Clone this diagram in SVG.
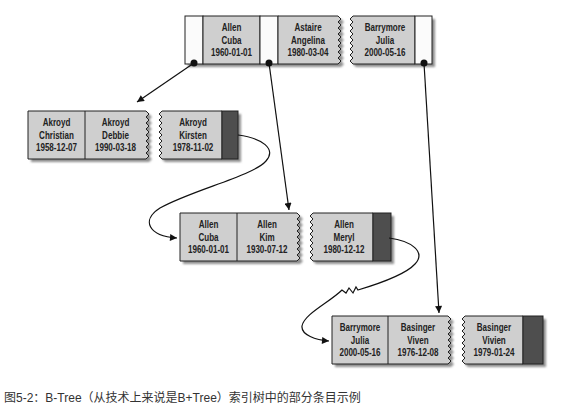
<svg xmlns="http://www.w3.org/2000/svg" width="583" height="414" viewBox="0 0 583 414">
<defs>
<style>
.gray{fill:#cfcfcf;stroke:#222;stroke-width:1}
.white{fill:#fbfbfb;stroke:#222;stroke-width:1}
.dark{fill:#4e4e4e;stroke:#222;stroke-width:1}
.shadow{fill:#8f8f8f;filter:url(#blur)}
.t{font-family:"Liberation Sans",sans-serif;font-size:11.5px;font-weight:bold;fill:#222;text-anchor:middle}
.edge{fill:none;stroke:#111;stroke-width:1.2}
.dot{fill:#111}
.cap{font-family:"Liberation Sans","Noto Sans CJK SC",sans-serif;font-size:12px;fill:#333}
</style>
<filter id="blur" x="-10%" y="-10%" width="120%" height="120%"><feGaussianBlur stdDeviation="1"/></filter>
<marker id="arr" viewBox="0 0 10 10" refX="10" refY="5" markerWidth="9" markerHeight="7" markerUnits="userSpaceOnUse" orient="auto"><path d="M0,0 L10,5 L0,10 Z" fill="#111"/></marker>
</defs>
<rect width="583" height="414" fill="#ffffff"/>

<g id="root-a">
<path class="shadow" d="M188,19 H341 l3,3 l-3,3 l3,3 l-3,3 l3,3 l-3,3 l3,3 l-3,3 l3,3 l-3,3 l3,3 l-3,3 l3,3 l-3,3 l3,3 l-3,3 H188 Z"/>
<rect class="white" x="185" y="16" width="18" height="48"/>
<rect class="gray" x="203" y="16" width="57" height="48"/>
<rect class="white" x="260" y="16" width="18" height="48"/>
<path class="gray" d="M278,16 H338 l3,3 l-3,3 l3,3 l-3,3 l3,3 l-3,3 l3,3 l-3,3 l3,3 l-3,3 l3,3 l-3,3 l3,3 l-3,3 l3,3 l-3,3 H278 Z"/>
<g transform="translate(231.5,0) scale(0.7,1)"><text class="t" x="0" y="31">Allen</text><text class="t" x="0" y="44">Cuba</text><text class="t" x="0" y="56">1960-01-01</text></g>
<g transform="translate(308,0) scale(0.7,1)"><text class="t" x="0" y="31">Astaire</text><text class="t" x="0" y="44">Angelina</text><text class="t" x="0" y="56">1980-03-04</text></g>
</g>
<g id="root-b">
<path class="shadow" d="M435,19 H356 l-3,3 l3,3 l-3,3 l3,3 l-3,3 l3,3 l-3,3 l3,3 l-3,3 l3,3 l-3,3 l3,3 l-3,3 l3,3 l-3,3 l3,3 H435 Z"/>
<path class="gray" d="M415,16 H353 l-3,3 l3,3 l-3,3 l3,3 l-3,3 l3,3 l-3,3 l3,3 l-3,3 l3,3 l-3,3 l3,3 l-3,3 l3,3 l-3,3 l3,3 H415 Z"/>
<rect class="white" x="415" y="16" width="17" height="48"/>
<g transform="translate(385,0) scale(0.7,1)"><text class="t" x="0" y="31">Barrymore</text><text class="t" x="0" y="44">Julia</text><text class="t" x="0" y="56">2000-05-16</text></g>
</g>

<g id="leaf1-a">
<path class="shadow" d="M31,114 H149 l3,3 l-3,3 l3,3 l-3,3 l3,3 l-3,3 l3,3 l-3,3 l3,3 l-3,3 l3,3 l-3,3 l3,3 l-3,3 l3,3 l-3,3 H31 Z"/>
<path class="gray" d="M28,111 H146 l3,3 l-3,3 l3,3 l-3,3 l3,3 l-3,3 l3,3 l-3,3 l3,3 l-3,3 l3,3 l-3,3 l3,3 l-3,3 l3,3 l-3,3 H28 Z"/>
<line x1="85" y1="111" x2="85" y2="159" stroke="#222"/>
<g transform="translate(56.5,0) scale(0.7,1)"><text class="t" x="0" y="126">Akroyd</text><text class="t" x="0" y="139">Christian</text><text class="t" x="0" y="151">1958-12-07</text></g>
<g transform="translate(115.5,0) scale(0.7,1)"><text class="t" x="0" y="126">Akroyd</text><text class="t" x="0" y="139">Debbie</text><text class="t" x="0" y="151">1990-03-18</text></g>
</g>
<g id="leaf1-b">
<path class="shadow" d="M241,114 H165 l-3,3 l3,3 l-3,3 l3,3 l-3,3 l3,3 l-3,3 l3,3 l-3,3 l3,3 l-3,3 l3,3 l-3,3 l3,3 l-3,3 l3,3 H241 Z"/>
<path class="gray" d="M222,111 H162 l-3,3 l3,3 l-3,3 l3,3 l-3,3 l3,3 l-3,3 l3,3 l-3,3 l3,3 l-3,3 l3,3 l-3,3 l3,3 l-3,3 l3,3 H222 Z"/>
<rect class="dark" x="222" y="111" width="16" height="48"/>
<g transform="translate(193,0) scale(0.7,1)"><text class="t" x="0" y="126">Akroyd</text><text class="t" x="0" y="139">Kirsten</text><text class="t" x="0" y="151">1978-11-02</text></g>
</g>

<g id="leaf2-a">
<path class="shadow" d="M183,216 H300 l3,3 l-3,3 l3,3 l-3,3 l3,3 l-3,3 l3,3 l-3,3 l3,3 l-3,3 l3,3 l-3,3 l3,3 l-3,3 l3,3 l-3,3 H183 Z"/>
<path class="gray" d="M180,213 H297 l3,3 l-3,3 l3,3 l-3,3 l3,3 l-3,3 l3,3 l-3,3 l3,3 l-3,3 l3,3 l-3,3 l3,3 l-3,3 l3,3 l-3,3 H180 Z"/>
<line x1="237" y1="213" x2="237" y2="261" stroke="#222"/>
<g transform="translate(208.5,0) scale(0.7,1)"><text class="t" x="0" y="228">Allen</text><text class="t" x="0" y="241">Cuba</text><text class="t" x="0" y="253">1960-01-01</text></g>
<g transform="translate(267,0) scale(0.7,1)"><text class="t" x="0" y="228">Allen</text><text class="t" x="0" y="241">Kim</text><text class="t" x="0" y="253">1930-07-12</text></g>
</g>
<g id="leaf2-b">
<path class="shadow" d="M394,216 H316 l-3,3 l3,3 l-3,3 l3,3 l-3,3 l3,3 l-3,3 l3,3 l-3,3 l3,3 l-3,3 l3,3 l-3,3 l3,3 l-3,3 l3,3 H394 Z"/>
<path class="gray" d="M373,213 H313 l-3,3 l3,3 l-3,3 l3,3 l-3,3 l3,3 l-3,3 l3,3 l-3,3 l3,3 l-3,3 l3,3 l-3,3 l3,3 l-3,3 l3,3 H373 Z"/>
<rect class="dark" x="373" y="213" width="18" height="48"/>
<g transform="translate(344,0) scale(0.7,1)"><text class="t" x="0" y="228">Allen</text><text class="t" x="0" y="241">Meryl</text><text class="t" x="0" y="253">1980-12-12</text></g>
</g>

<g id="leaf3-a">
<path class="shadow" d="M335,319 H451 l3,3 l-3,3 l3,3 l-3,3 l3,3 l-3,3 l3,3 l-3,3 l3,3 l-3,3 l3,3 l-3,3 l3,3 l-3,3 l3,3 l-3,3 H335 Z"/>
<path class="gray" d="M332,316 H448 l3,3 l-3,3 l3,3 l-3,3 l3,3 l-3,3 l3,3 l-3,3 l3,3 l-3,3 l3,3 l-3,3 l3,3 l-3,3 l3,3 l-3,3 H332 Z"/>
<line x1="388" y1="316" x2="388" y2="364" stroke="#222"/>
<g transform="translate(360,0) scale(0.7,1)"><text class="t" x="0" y="331">Barrymore</text><text class="t" x="0" y="344">Julia</text><text class="t" x="0" y="356">2000-05-16</text></g>
<g transform="translate(418,0) scale(0.7,1)"><text class="t" x="0" y="331">Basinger</text><text class="t" x="0" y="344">Viven</text><text class="t" x="0" y="356">1976-12-08</text></g>
</g>
<g id="leaf3-b">
<path class="shadow" d="M546,319 H468 l-3,3 l3,3 l-3,3 l3,3 l-3,3 l3,3 l-3,3 l3,3 l-3,3 l3,3 l-3,3 l3,3 l-3,3 l3,3 l-3,3 l3,3 H546 Z"/>
<path class="gray" d="M523,316 H465 l-3,3 l3,3 l-3,3 l3,3 l-3,3 l3,3 l-3,3 l3,3 l-3,3 l3,3 l-3,3 l3,3 l-3,3 l3,3 l-3,3 l3,3 H523 Z"/>
<rect class="dark" x="523" y="316" width="20" height="48"/>
<g transform="translate(494,0) scale(0.7,1)"><text class="t" x="0" y="331">Basinger</text><text class="t" x="0" y="344">Vivien</text><text class="t" x="0" y="356">1979-01-24</text></g>
</g>

<g id="connectors">
<path class="edge" d="M194,63 L137,102" marker-end="url(#arr)"/>
<path class="edge" d="M269,63 L289,210" marker-end="url(#arr)"/>
<path class="edge" d="M424,63 L439,313" marker-end="url(#arr)"/>
<path class="edge" d="M238,135 C262,138 277,149 266,161 C253,176 192,190 160,208 C141,220 148,236 177,238" marker-end="url(#arr)"/>
<path class="edge" d="M389,238 C412,241 426,252 415,264 C405,275 378,284 358,290 l-2,-3 l-3,6 l-4,-5 l-3,5 l-4,-3 C330,302 304,314 302,326 C301,335 316,340 329,341" marker-end="url(#arr)"/>
<circle class="dot" cx="194" cy="63" r="3.5"/>
<circle class="dot" cx="269" cy="63" r="3.5"/>
<circle class="dot" cx="424" cy="63" r="3.5"/>
</g>

<text class="cap" x="4" y="402">图5-2：B-Tree（从技术上来说是B+Tree）索引树中的部分条目示例</text>
</svg>
